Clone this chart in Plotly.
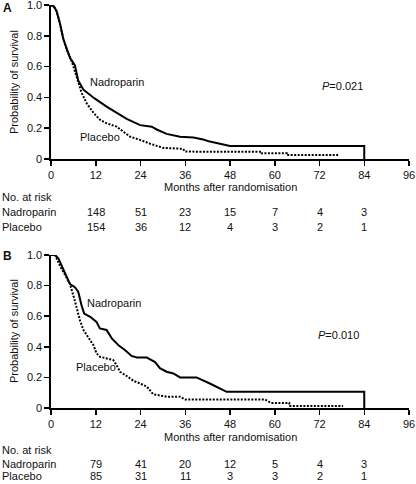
import plotly.graph_objects as go

# ---------------- data ----------------
# Panel A
a_nad_months = [0, 0.8, 1.5, 2.4, 3.3, 4.2, 5.1, 6.4, 7.3, 8.7, 11.6, 14.9, 17.6, 20.3, 23.9,
                27.0, 28.5, 31.0, 34.6, 38.2, 40.8, 42.6, 48.0, 84.0, 84.0]
a_nad_surv = [1.0, 0.99, 0.96, 0.88, 0.78, 0.71, 0.655, 0.61, 0.51, 0.45, 0.395, 0.34, 0.30, 0.26, 0.22,
              0.21, 0.19, 0.163, 0.145, 0.14, 0.127, 0.113, 0.085, 0.085, 0.0]

a_pla_months = [0, 0.8, 1.5, 2.4, 3.3, 4.2, 5.5, 6.9, 8.2, 9.6, 11.4, 13.1, 14.9, 17.6, 19.4,
                21.2, 23.9, 26.5, 30.1, 35.4, 36.0, 56.5, 56.5, 63.2, 63.2, 77.0]
a_pla_surv = [1.0, 0.99, 0.96, 0.88, 0.78, 0.71, 0.64, 0.535, 0.43, 0.36, 0.30, 0.255, 0.232, 0.21, 0.18,
              0.145, 0.124, 0.10, 0.072, 0.066, 0.048, 0.047, 0.037, 0.037, 0.026, 0.026]

# Panel B
b_nad_months = [0, 1.1, 2.0, 2.9, 3.8, 4.6, 5.1, 6.4, 7.3, 8.2, 8.9, 10.5, 12.2, 13.1, 14.9, 16.3,
                18.1, 19.9, 21.6, 23.0, 25.7, 27.9, 29.2, 31.0, 32.8, 34.6, 39.0, 42.6, 47.1, 84.0, 84.0]
b_nad_surv = [1.0, 1.0, 0.976, 0.93, 0.88, 0.835, 0.81, 0.79, 0.76, 0.67, 0.617, 0.596, 0.563, 0.52, 0.51, 0.455,
              0.41, 0.378, 0.34, 0.33, 0.33, 0.30, 0.26, 0.237, 0.226, 0.20, 0.20, 0.16, 0.106, 0.106, 0.0]

b_pla_months = [0, 1.1, 2.4, 3.8, 5.1, 6.4, 7.8, 8.7, 10.0, 11.4, 12.2, 13.1, 14.9, 16.7, 17.6, 18.5,
                20.3, 22.1, 23.9, 25.7, 27.4, 30.1, 31.0, 34.6, 36.0, 57.4, 59.0, 63.9, 63.9, 78.3]
b_pla_surv = [1.0, 1.0, 0.93, 0.87, 0.81, 0.70, 0.57, 0.51, 0.465, 0.41, 0.357, 0.335, 0.324, 0.313, 0.28, 0.237,
              0.209, 0.178, 0.16, 0.14, 0.09, 0.08, 0.074, 0.074, 0.055, 0.055, 0.033, 0.033, 0.013, 0.013]

# Numbers at risk (displayed under the tick columns 12..84)
risk_cols = [12, 24, 36, 48, 60, 72, 84]
a_risk_nad = [148, 51, 23, 15, 7, 4, 3]
a_risk_pla = [154, 36, 12, 4, 3, 2, 1]
b_risk_nad = [79, 41, 20, 12, 5, 4, 3]
b_risk_pla = [85, 31, 11, 3, 3, 2, 1]

x_ticks = [0, 12, 24, 36, 48, 60, 72, 84, 96]
y_ticks = [0, 0.2, 0.4, 0.6, 0.8, 1.0]
y_ticktext = ["0", "0.2", "0.4", "0.6", "0.8", "1.0"]
p_values = ["0.021", "0.010"]

# ---------------- figure ----------------
W, H = 416, 484
FONT = "Liberation Sans, Arial, Helvetica, sans-serif"
TXT = "#111111"

def py(pix):
    return 1 - pix / H

fig = go.Figure()

panels = [
    dict(xa="x", ya="y", nad=(a_nad_months, a_nad_surv), pla=(a_pla_months, a_pla_surv)),
    dict(xa="x2", ya="y2", nad=(b_nad_months, b_nad_surv), pla=(b_pla_months, b_pla_surv)),
]
for p in panels:
    fig.add_trace(go.Scatter(x=p["pla"][0], y=p["pla"][1], mode="lines", xaxis=p["xa"], yaxis=p["ya"],
                             line=dict(color="black", width=2, dash="2px,1.5px"), showlegend=False,
                             hoverinfo="skip"))
    fig.add_trace(go.Scatter(x=p["nad"][0], y=p["nad"][1], mode="lines", xaxis=p["xa"], yaxis=p["ya"],
                             line=dict(color="black", width=2), showlegend=False, hoverinfo="skip"))

axis_common = dict(showline=True, linecolor="black", linewidth=1.6, ticks="outside", ticklen=5,
                   tickwidth=1.5, tickcolor="black", showgrid=False, zeroline=False, automargin=False,
                   ticklabeloverflow="allow",
                   tickfont=dict(family=FONT, size=11, color=TXT), fixedrange=True)

xdom = [51 / W, 409 / W]
fig.update_layout(
    width=W, height=H, autosize=False,
    margin=dict(l=0, r=0, t=0, b=0, pad=0),
    paper_bgcolor="white", plot_bgcolor="white",
    font=dict(family=FONT, size=11, color=TXT),
    xaxis=dict(domain=xdom, range=[0, 96], tickvals=x_ticks, anchor="y", **axis_common),
    yaxis=dict(domain=[py(159), py(5)], range=[0, 1.0], tickvals=y_ticks, ticktext=y_ticktext,
               anchor="x", **axis_common),
    xaxis2=dict(domain=xdom, range=[0, 96], tickvals=x_ticks, anchor="y2", **axis_common),
    yaxis2=dict(domain=[py(408), py(255)], range=[0, 1.0], tickvals=y_ticks, ticktext=y_ticktext,
                anchor="x2", **axis_common),
)

ann = []
# panel letters
ann.append(dict(text="<b>A</b>", x=7 / W, y=py(8), xref="paper", yref="paper", showarrow=False,
                font=dict(family=FONT, size=12, color=TXT), xanchor="center", yanchor="middle"))
ann.append(dict(text="<b>B</b>", x=7 / W, y=py(256), xref="paper", yref="paper", showarrow=False,
                font=dict(family=FONT, size=12, color=TXT), xanchor="center", yanchor="middle"))
# y titles
for yc in [82, 331]:
    ann.append(dict(text="Probability of survival", x=14 / W, y=py(yc), xref="paper", yref="paper",
                    showarrow=False, textangle=-90, xanchor="center", yanchor="middle"))
# series labels & p values
ann += [
    dict(text="Nadroparin", x=17.6, y=0.503, xref="x", yref="y", showarrow=False),
    dict(text="Placebo", x=13.1, y=0.145, xref="x", yref="y", showarrow=False),
    dict(text="<i>P</i>=" + p_values[0], x=78.3, y=0.474, xref="x", yref="y", showarrow=False),
    dict(text="Nadroparin", x=16.9, y=0.685, xref="x2", yref="y2", showarrow=False),
    dict(text="Placebo", x=12.1, y=0.27, xref="x2", yref="y2", showarrow=False),
    dict(text="<i>P</i>=" + p_values[1], x=77.0, y=0.476, xref="x2", yref="y2", showarrow=False),
]
# x titles and risk tables
tables = [
    dict(xr="x", months=187, head=197, nad=212, pla=226.5, rn=a_risk_nad, rp=a_risk_pla),
    dict(xr="x2", months=437, head=450, nad=463.5, pla=476, rn=b_risk_nad, rp=b_risk_pla),
]
for t in tables:
    ann.append(dict(text="Months after randomisation", x=230 / W, y=py(t["months"]), xref="paper",
                    yref="paper", showarrow=False, xanchor="center", yanchor="middle"))
    ann.append(dict(text="No. at risk", x=0, y=py(t["head"]), xref="paper", yref="paper",
                    showarrow=False, xanchor="left", yanchor="middle"))
    ann.append(dict(text="Nadroparin", x=0, y=py(t["nad"]), xref="paper", yref="paper",
                    showarrow=False, xanchor="left", yanchor="middle"))
    ann.append(dict(text="Placebo", x=0, y=py(t["pla"]), xref="paper", yref="paper",
                    showarrow=False, xanchor="left", yanchor="middle"))
    for c, vn, vp in zip(risk_cols, t["rn"], t["rp"]):
        ann.append(dict(text=str(vn), x=c, y=py(t["nad"]), xref=t["xr"], yref="paper",
                        showarrow=False, xanchor="center", yanchor="middle"))
        ann.append(dict(text=str(vp), x=c, y=py(t["pla"]), xref=t["xr"], yref="paper",
                        showarrow=False, xanchor="center", yanchor="middle"))

for a in ann:
    a.setdefault("font", dict(family=FONT, size=11, color=TXT))
fig.update_layout(annotations=ann)

fig.write_html("out.html", config={"displayModeBar": False, "staticPlot": True},
               post_script="document.body.style.margin='0';document.body.style.padding='0';")
